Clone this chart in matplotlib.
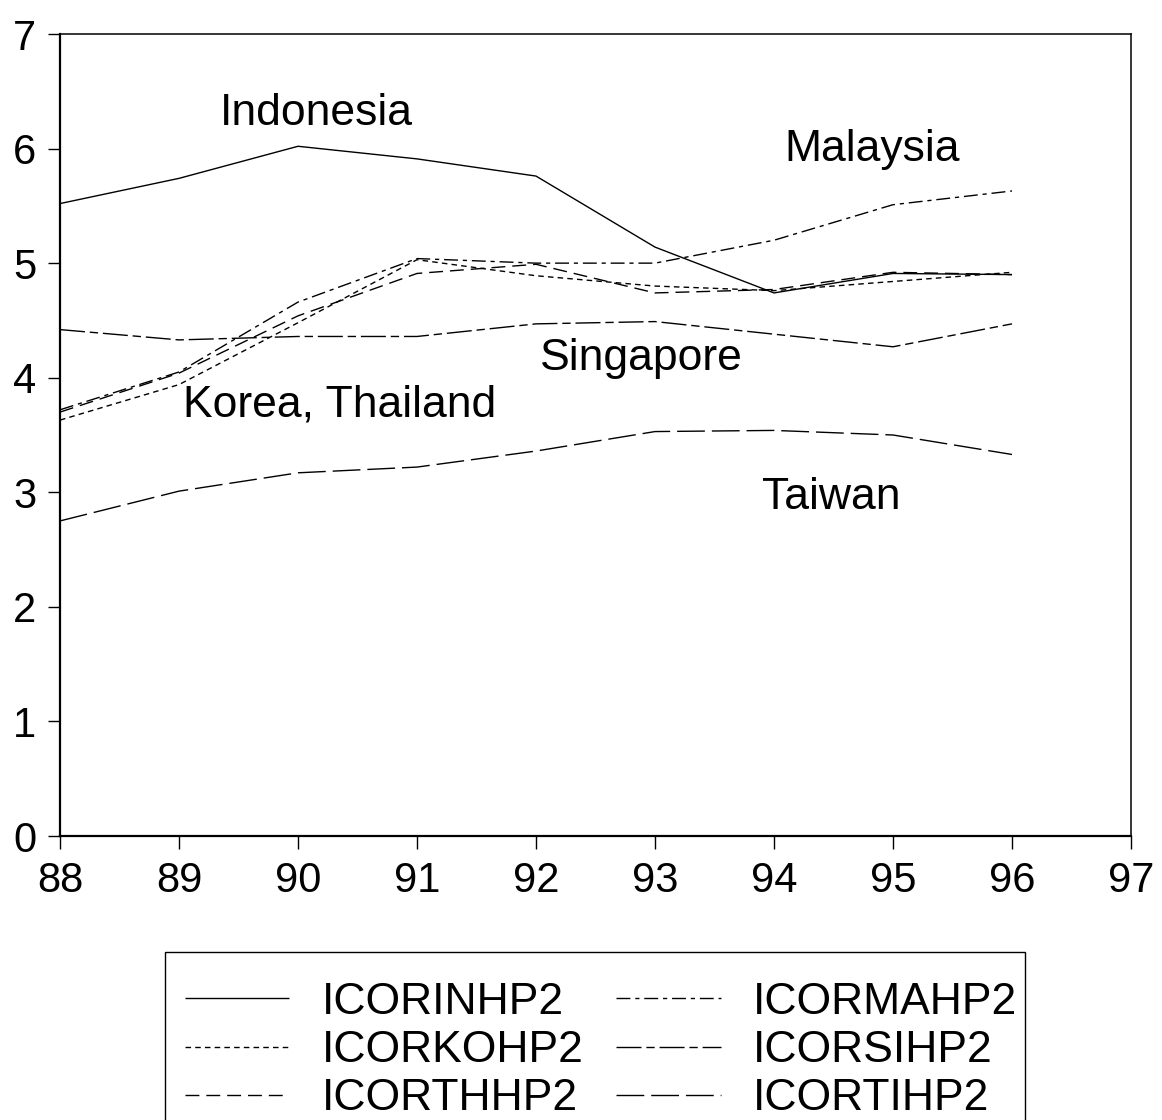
import matplotlib
matplotlib.use("Agg")
import matplotlib.pyplot as plt
from matplotlib.patches import Rectangle

plt.rcParams['font.family'] = ['Liberation Sans', 'DejaVu Sans']

years = [88, 89, 90, 91, 92, 93, 94, 95, 96]

icor_in = [5.52, 5.74, 6.02, 5.91, 5.76, 5.14, 4.74, 4.91, 4.90]
icor_ma = [3.72, 4.05, 4.66, 5.04, 5.00, 5.00, 5.20, 5.51, 5.63]
icor_ko = [3.63, 3.94, 4.48, 5.03, 4.89, 4.80, 4.76, 4.84, 4.92]
icor_si = [4.42, 4.33, 4.36, 4.36, 4.47, 4.49, 4.38, 4.27, 4.47]
icor_th = [3.70, 4.04, 4.54, 4.91, 4.99, 4.74, 4.77, 4.92, 4.90]
icor_ti = [2.75, 3.01, 3.17, 3.22, 3.36, 3.53, 3.54, 3.50, 3.33]

series = [
    ("ICORINHP2", icor_in, (0, ())),
    ("ICORMAHP2", icor_ma, (0, (10, 3.5, 3, 3.5))),
    ("ICORKOHP2", icor_ko, (0, (4, 3))),
    ("ICORSIHP2", icor_si, (0, (18, 3.5, 6, 3.5))),
    ("ICORTHHP2", icor_th, (0, (10, 5))),
    ("ICORTIHP2", icor_ti, (0, (20, 5))),
]

labels = [
    ("Indonesia", 89.34, 6.21),
    ("Malaysia", 94.09, 5.89),
    ("Singapore", 92.03, 4.07),
    ("Korea, Thailand", 89.03, 3.66),
    ("Taiwan", 93.90, 2.85),
]

tick_fs = 30
text_fs = 32

W, H = 1162, 1120
fig = plt.figure(figsize=(W / 100, H / 100), dpi=100)
ax = fig.add_axes([60 / W, 1 - 836 / H, (1131 - 60) / W, (836 - 34) / H])

handles = {}
for name, vals, ls in series:
    h, = ax.plot(years, vals, color='black', lw=1.0, linestyle=ls)
    handles[name] = h

for txt, x, y in labels:
    ax.text(x, y, txt, fontsize=text_fs, ha='left', va='baseline')

ax.set_xlim(88, 97)
ax.set_ylim(0, 7)
ax.set_xticks(range(88, 98))
ax.set_yticks(range(0, 8))
ax.tick_params(axis='both', direction='out', length=9, width=1.0,
               labelsize=tick_fs, colors='black')
ax.tick_params(axis='y', pad=8)
ax.tick_params(axis='x', pad=9)
for side in ['left', 'bottom']:
    ax.spines[side].set_linewidth(1.6)
for side in ['top', 'right']:
    ax.spines[side].set_linewidth(1.1)

# legend box, running off the bottom edge of the figure
fig.patches.append(Rectangle((165 / W, -0.02), (1025 - 165) / W, (H - 952) / H + 0.02,
                             transform=fig.transFigure, fill=False,
                             edgecolor='black', lw=1.0))

order = ["ICORINHP2", "ICORKOHP2", "ICORTHHP2", "ICORMAHP2", "ICORSIHP2", "ICORTIHP2"]
leg = fig.legend([handles[n] for n in order], order, ncol=2,
                 loc='upper left', bbox_to_anchor=(185 / W, 1 - 982 / H),
                 borderaxespad=0.0, borderpad=0.0,
                 fontsize=text_fs, frameon=False,
                 handlelength=2.35, handletextpad=0.72, columnspacing=0.74,
                 labelspacing=0.16)

fig.savefig("out.png", dpi=100)
